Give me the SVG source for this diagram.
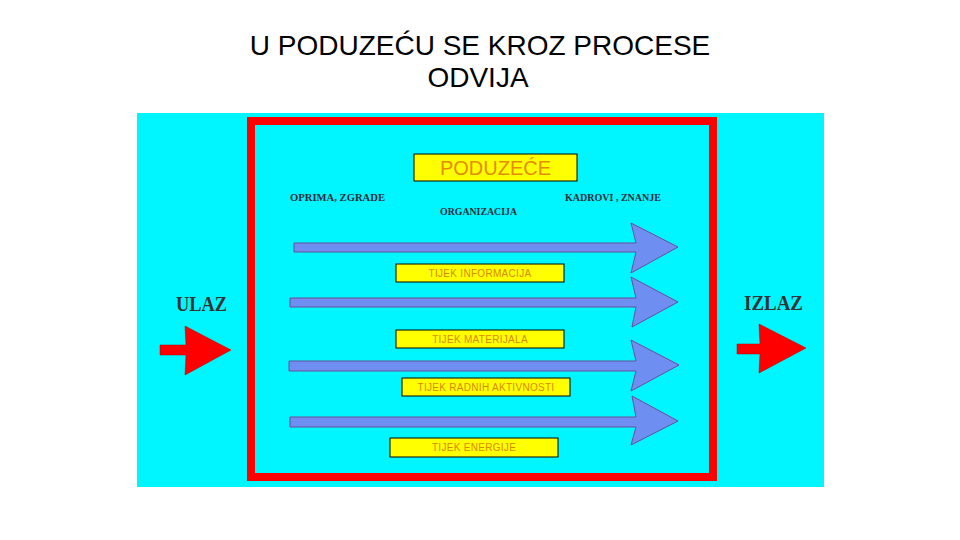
<svg xmlns="http://www.w3.org/2000/svg" width="960" height="540" viewBox="0 0 960 540">
<defs>
<style>
.title{font-family:"Liberation Sans",Arial,sans-serif;font-size:28px;fill:#000;text-anchor:middle}
.lbl{font-family:"Liberation Sans",Arial,sans-serif;font-size:10px;fill:#D88A00;text-anchor:middle;letter-spacing:0.3px}
.box{fill:#FFFF00;stroke:#000;stroke-width:1}
.ser{font-family:"Liberation Serif","Times New Roman",serif;font-weight:bold;font-size:10.5px;fill:#2A2A3A}
.big{font-family:"Liberation Serif","Times New Roman",serif;font-weight:bold;font-size:20px;fill:#333}
.flow{fill:#6E8EF2;stroke:#6A4E98;stroke-width:1}
.red{fill:#FF0000;stroke:#B00000;stroke-width:0.5}
</style>
</defs>
<rect width="960" height="540" fill="#fff"/>
<text class="title" x="480" y="55">U PODUZEĆU SE KROZ PROCESE</text>
<text class="title" x="478" y="87">ODVIJA</text>
<rect x="137" y="113" width="687" height="374" fill="#00F6FF"/>
<rect id="frame" x="251" y="121" width="462" height="356" fill="none" stroke="#FF0000" stroke-width="8"/>
<g id="poduzece">
<rect class="box" x="414" y="154" width="163" height="27"/>
<text x="495.5" y="175" font-family="Liberation Sans,Arial,sans-serif" font-size="20" fill="#E38C08" text-anchor="middle">PODUZEĆE</text>
</g>
<g id="resources">
<text class="ser" x="290" y="201" textLength="95" lengthAdjust="spacingAndGlyphs">OPRIMA,  ZGRADE</text>
<text class="ser" x="440" y="215" textLength="77" lengthAdjust="spacingAndGlyphs">ORGANIZACIJA</text>
<text class="ser" x="565" y="201" textLength="96" lengthAdjust="spacingAndGlyphs">KADROVI , ZNANJE</text>
</g>
<g id="connectors">
<path class="flow" d="M294,243 L636,243 L631,223 L678,247 L631,273 L636,252 L294,252 Z"/>
<path class="flow" d="M290,298 L636,298 L631,277 L678,302 L632,327 L636,307 L290,307 Z"/>
<path class="flow" d="M289,361 L636,361 L631,340 L679,365 L631,391 L636,371 L289,371 Z"/>
<path class="flow" d="M290,417 L636,417 L632,396 L678,421 L631,445 L636,427 L290,427 Z"/>
<path class="red" d="M160,345 L186,345 L185,326 L231,350 L185,375 L186,355 L160,355 Z"/>
<path class="red" d="M737,344 L760,344 L759,324 L806,348 L759,373 L760,354 L737,354 Z"/>
</g>
<g id="n-info"><rect class="box" x="396" y="264" width="168" height="18"/><text class="lbl" x="480" y="277">TIJEK INFORMACIJA</text></g>
<g id="n-mat"><rect class="box" x="396" y="330" width="168" height="18"/><text class="lbl" x="480" y="343">TIJEK MATERIJALA</text></g>
<g id="n-rad"><rect class="box" x="402" y="378" width="168" height="18"/><text class="lbl" x="486" y="391">TIJEK RADNIH AKTIVNOSTI</text></g>
<g id="n-en"><rect class="box" x="390" y="438" width="168" height="19"/><text class="lbl" x="474" y="451">TIJEK ENERGIJE</text></g>
<g id="ulaz"><text class="big" x="176" y="311" textLength="51" lengthAdjust="spacingAndGlyphs">ULAZ</text></g>
<g id="izlaz"><text class="big" x="744" y="310" textLength="59" lengthAdjust="spacingAndGlyphs">IZLAZ</text></g>
</svg>
